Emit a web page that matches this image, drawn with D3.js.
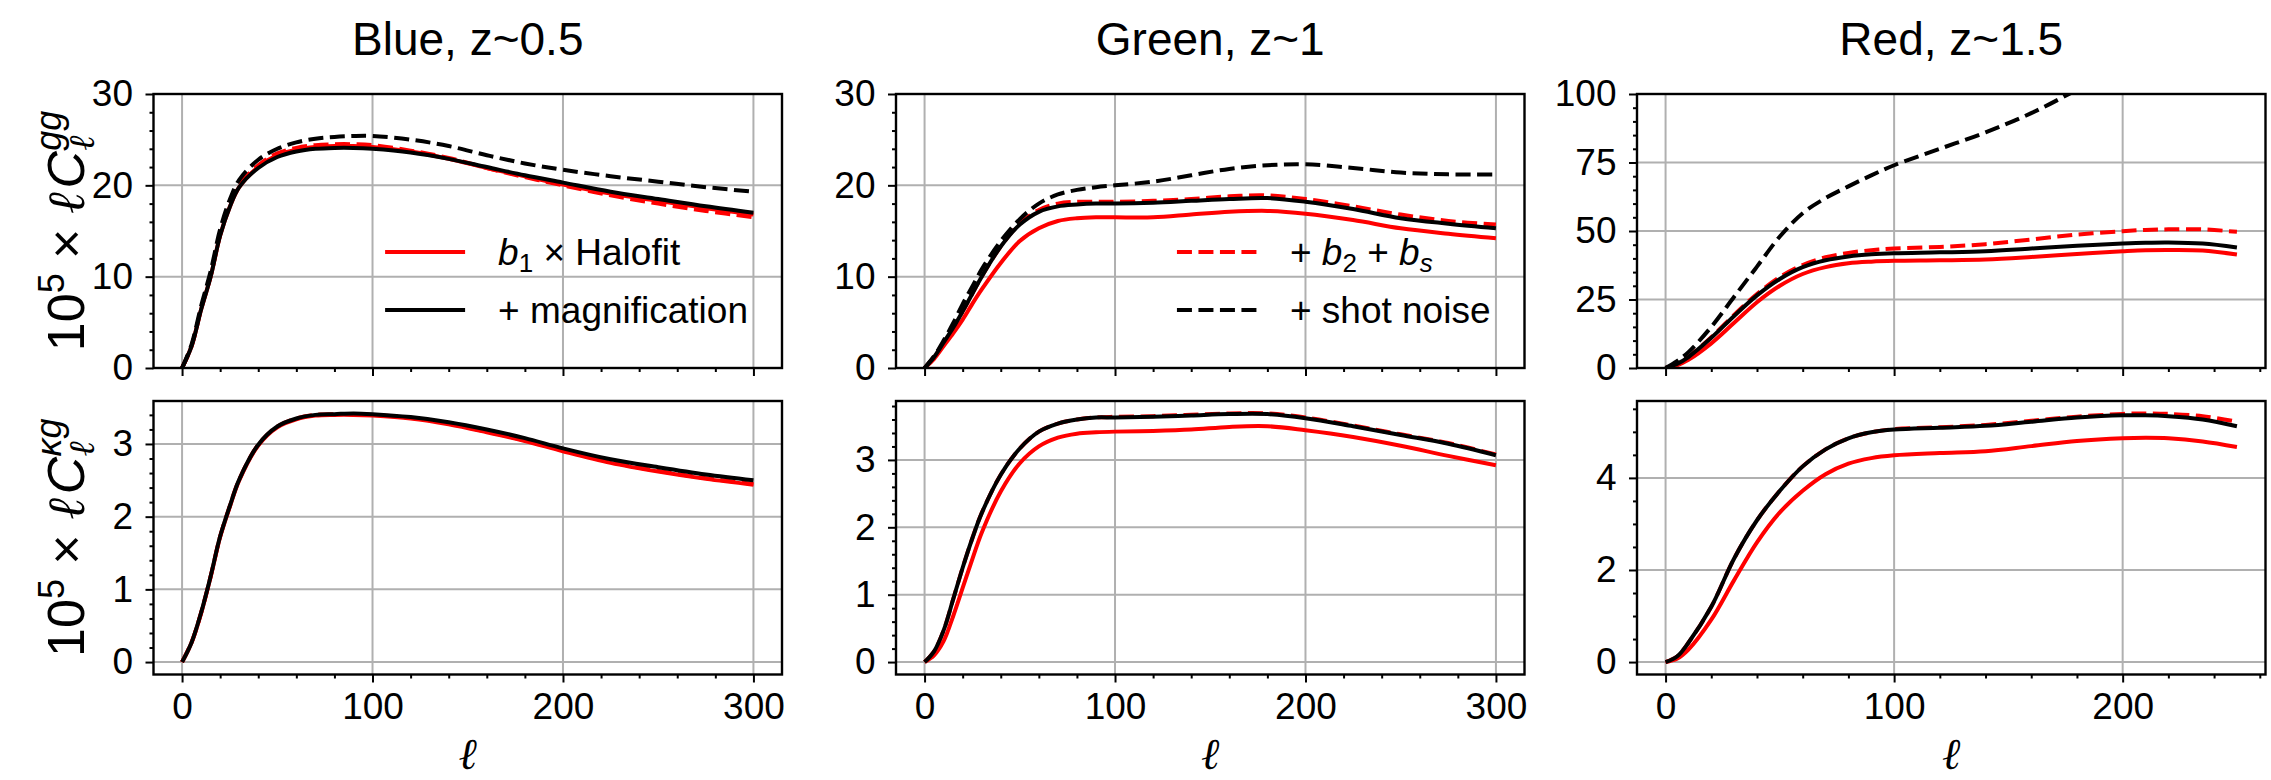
<!DOCTYPE html>
<html>
<head>
<meta charset="utf-8">
<script src="https://cdn.jsdelivr.net/npm/d3@7"></script>
<style>
  body { margin: 0; background: #fff; }
  svg { display: block; font-family: 'Liberation Sans', Arial, Helvetica, sans-serif; }
</style>
</head>
<body>
<svg width="2271" height="780"></svg>
<script>
// multipole grids
const ellBG = [0, 5, 10, 15, 20, 25, 30, 40, 50, 60, 70, 80, 90, 100, 120, 140, 160, 180, 200, 225, 250, 275, 300]
const ellR = [0, 5, 10, 20, 30, 40, 50, 60, 70, 80, 90, 100, 120, 140, 160, 180, 200, 210, 220, 235, 250]

// Blue, z~0.5
const blueGG_halofit = [0, 2.4, 6.4, 10.0, 14.5, 17.6, 19.8, 22.0, 23.3, 23.9, 24.2, 24.3, 24.3, 24.2, 23.7, 22.9, 21.9, 21.0, 20.1, 19.1, 18.3, 17.5, 16.8]
const blueGG_magnif = [0, 2.4, 6.4, 10.0, 14.5, 17.6, 19.8, 21.9, 23.1, 23.7, 24.0, 24.1, 24.1, 24.0, 23.6, 22.9, 22.0, 21.1, 20.3, 19.3, 18.5, 17.7, 17.0]
const blueGG_b2bs = [0, 2.4, 6.5, 10.1, 14.6, 17.8, 20.0, 22.2, 23.5, 24.1, 24.4, 24.5, 24.5, 24.4, 23.8, 23.0, 21.9, 20.9, 20.0, 18.9, 18.0, 17.2, 16.5]
const blueGG_shot = [0, 2.6, 6.8, 10.6, 15.2, 18.4, 20.6, 22.8, 24.0, 24.7, 25.1, 25.3, 25.4, 25.4, 25.0, 24.3, 23.3, 22.4, 21.7, 21.0, 20.4, 19.8, 19.3]
const blueKG_halofit = [0, 0.27, 0.67, 1.17, 1.72, 2.13, 2.50, 2.98, 3.23, 3.34, 3.39, 3.40, 3.40, 3.39, 3.35, 3.27, 3.16, 3.04, 2.90, 2.74, 2.62, 2.52, 2.44]
const blueKG_magnif = [0, 0.27, 0.68, 1.18, 1.73, 2.14, 2.51, 2.99, 3.24, 3.35, 3.40, 3.41, 3.42, 3.41, 3.37, 3.30, 3.20, 3.08, 2.94, 2.79, 2.68, 2.58, 2.50]
const blueKG_b2bs = [0, 0.27, 0.68, 1.18, 1.73, 2.14, 2.51, 2.99, 3.24, 3.35, 3.40, 3.41, 3.41, 3.40, 3.36, 3.28, 3.17, 3.05, 2.91, 2.75, 2.63, 2.53, 2.45]

// Green, z~1
const greenGG_halofit = [0, 1.0, 2.4, 3.8, 5.3, 7.0, 8.6, 11.5, 13.9, 15.3, 16.1, 16.4, 16.5, 16.5, 16.5, 16.8, 17.1, 17.2, 16.9, 16.2, 15.3, 14.7, 14.2]
const greenGG_magnif = [0, 1.2, 2.8, 4.4, 6.2, 8.1, 10.0, 13.3, 15.7, 17.1, 17.7, 17.9, 18.0, 18.0, 18.1, 18.3, 18.5, 18.6, 18.2, 17.4, 16.4, 15.8, 15.3]
const greenGG_b2bs = [0, 1.2, 2.8, 4.4, 6.2, 8.1, 10.0, 13.3, 15.8, 17.3, 18.0, 18.2, 18.2, 18.2, 18.3, 18.5, 18.8, 18.9, 18.5, 17.7, 16.8, 16.1, 15.7]
const greenGG_shot = [0, 1.3, 3.0, 4.9, 7.0, 8.9, 10.8, 13.9, 16.3, 18.0, 19.0, 19.5, 19.8, 20.0, 20.4, 21.1, 21.8, 22.2, 22.3, 21.9, 21.4, 21.2, 21.2]
const greenKG_halofit = [0, 0.10, 0.31, 0.68, 1.10, 1.52, 1.92, 2.53, 2.95, 3.20, 3.33, 3.39, 3.41, 3.42, 3.43, 3.45, 3.49, 3.50, 3.44, 3.34, 3.21, 3.06, 2.92]
const greenKG_magnif = [0, 0.16, 0.47, 0.93, 1.40, 1.83, 2.21, 2.78, 3.17, 3.42, 3.54, 3.60, 3.63, 3.63, 3.64, 3.66, 3.68, 3.68, 3.62, 3.50, 3.37, 3.24, 3.07]
const greenKG_b2bs = [0, 0.16, 0.47, 0.93, 1.40, 1.83, 2.21, 2.78, 3.17, 3.42, 3.54, 3.60, 3.63, 3.64, 3.65, 3.67, 3.69, 3.69, 3.63, 3.51, 3.38, 3.25, 3.08]

// Red, z~1.5
const redGG_halofit = [0, 1.0, 3.0, 9.0, 16.5, 24.0, 30.0, 34.3, 36.8, 38.2, 38.8, 39.1, 39.3, 39.6, 40.5, 41.6, 42.6, 43.0, 43.1, 42.9, 41.4]
const redGG_magnif = [0, 1.5, 4.0, 11.0, 19.0, 26.5, 32.5, 36.8, 39.3, 40.7, 41.5, 41.9, 42.2, 42.6, 43.6, 44.6, 45.4, 45.7, 45.8, 45.4, 44.0]
const redGG_b2bs = [0, 1.5, 4.1, 11.2, 19.4, 27.0, 33.2, 37.6, 40.4, 42.0, 43.0, 43.6, 44.2, 45.2, 46.9, 48.7, 49.9, 50.4, 50.6, 50.6, 49.7]
const redGG_shot = [0, 2.5, 5.8, 15.0, 26.0, 37.0, 48.0, 56.5, 62.0, 66.3, 70.3, 74.0, 80.0, 86.0, 93.0, 101.5, 110.0, 114.0, 118.0, 124.0, 130.0]
const redKG_halofit = [0, 0.07, 0.27, 0.92, 1.78, 2.60, 3.25, 3.72, 4.08, 4.31, 4.43, 4.49, 4.54, 4.58, 4.69, 4.80, 4.86, 4.87, 4.86, 4.79, 4.67]
const redKG_magnif = [0, 0.12, 0.42, 1.20, 2.25, 3.08, 3.72, 4.25, 4.62, 4.86, 4.99, 5.05, 5.09, 5.13, 5.22, 5.31, 5.36, 5.36, 5.34, 5.27, 5.12]
const redKG_b2bs = [0, 0.12, 0.42, 1.20, 2.25, 3.08, 3.72, 4.25, 4.62, 4.86, 4.99, 5.06, 5.10, 5.15, 5.24, 5.33, 5.39, 5.40, 5.39, 5.34, 5.22]

const titles = ['Blue, z~0.5', 'Green, z~1', 'Red, z~1.5']
const xTicks = [[0, 100, 200, 300], [0, 100, 200, 300], [0, 100, 200]]
const yTicksGG = [[0, 10, 20, 30], [0, 10, 20, 30], [0, 25, 50, 75, 100]]
const yTicksKG = [[0, 1, 2, 3], [0, 1, 2, 3], [0, 2, 4]]
const yLimGG = [[0, 30], [0, 30], [0, 100]]

const svg = d3.select('svg')
const lefts = [153.5, 896, 1637]
const panelW = 628.5
const rows = [{ top: 94, bottom: 368 }, { top: 401, bottom: 674.5 }]
const RED = '#ff0000'
const LW = 4
const DASH = '15,6.5'

const styles = {
  halofit: { color: RED, dash: null },
  b2bs: { color: RED, dash: DASH },
  magnif: { color: '#000', dash: null },
  shot: { color: '#000', dash: DASH }
}

const columns = [
  { ell: ellBG, gg: { halofit: blueGG_halofit, b2bs: blueGG_b2bs, magnif: blueGG_magnif, shot: blueGG_shot },
    kg: { halofit: blueKG_halofit, b2bs: blueKG_b2bs, magnif: blueKG_magnif } },
  { ell: ellBG, gg: { halofit: greenGG_halofit, b2bs: greenGG_b2bs, magnif: greenGG_magnif, shot: greenGG_shot },
    kg: { halofit: greenKG_halofit, b2bs: greenKG_b2bs, magnif: greenKG_magnif } },
  { ell: ellR, gg: { halofit: redGG_halofit, b2bs: redGG_b2bs, magnif: redGG_magnif, shot: redGG_shot },
    kg: { halofit: redKG_halofit, b2bs: redKG_b2bs, magnif: redKG_magnif } }
]

function minorTicks(dom, step, majors) {
  const out = []
  const start = Math.ceil(dom[0] / step) * step
  for (let v = start; v <= dom[1] + 1e-9; v += step) {
    const r = Math.round(v * 1000) / 1000
    if (!majors.some(m => Math.abs(m - r) < 1e-6)) out.push(r)
  }
  return out
}

function styleAxis(g) {
  g.select('.domain').remove()
  g.selectAll('.tick line').attr('stroke', '#000').attr('stroke-width', 2)
  g.selectAll('.tick text').attr('font-size', 37).attr('fill', '#000')
    .attr('font-family', "'Liberation Sans', Arial, sans-serif")
}

function drawPanel(ci, ri) {
  const col = columns[ci]
  const row = rows[ri]
  const left = lefts[ci]
  const right = left + panelW
  const series = ri === 0 ? col.gg : col.kg
  const ellMax = d3.max(col.ell)
  const x = d3.scaleLinear().domain([-0.05 * ellMax, 1.05 * ellMax]).range([left, right])
  let ydom
  if (ri === 0) ydom = yLimGG[ci]
  else {
    const ymax = d3.max(Object.values(series), s => d3.max(s))
    ydom = [-0.05 * ymax, 1.05 * ymax]
  }
  const y = d3.scaleLinear().domain(ydom).range([row.bottom, row.top])
  const yt = ri === 0 ? yTicksGG[ci] : yTicksKG[ci]
  const yStep = ri === 0 ? (ci === 2 ? 5 : 2) : (ci === 2 ? 0.5 : 0.2)

  const g = svg.append('g')
  const id = 'clip-' + ci + '-' + ri
  g.append('clipPath').attr('id', id).append('rect')
    .attr('x', left).attr('y', row.top).attr('width', panelW).attr('height', row.bottom - row.top)

  // grid
  g.append('g').selectAll('line').data(xTicks[ci]).join('line')
    .attr('x1', d => x(d)).attr('x2', d => x(d)).attr('y1', row.top).attr('y2', row.bottom)
    .attr('stroke', '#b0b0b0').attr('stroke-width', 2)
  g.append('g').selectAll('line').data(yt).join('line')
    .attr('x1', left).attr('x2', right).attr('y1', d => y(d)).attr('y2', d => y(d))
    .attr('stroke', '#b0b0b0').attr('stroke-width', 2)

  // curves
  const line = d3.line().x((d, i) => x(col.ell[i])).y(d => y(d)).curve(d3.curveCatmullRom.alpha(0.5))
  const order = ['halofit', 'b2bs', 'magnif', 'shot'].filter(k => series[k])
  g.append('g').attr('clip-path', 'url(#' + id + ')')
    .selectAll('path').data(order).join('path')
    .attr('d', k => line(series[k]))
    .attr('fill', 'none')
    .attr('stroke', k => styles[k].color)
    .attr('stroke-width', LW)
    .attr('stroke-dasharray', k => styles[k].dash)
    .attr('stroke-linecap', 'butt')

  // axes
  const xAxis = d3.axisBottom(x).tickValues(xTicks[ci]).tickSize(8).tickPadding(10.5).tickSizeOuter(0)
  if (ri === 0) xAxis.tickFormat('')
  g.append('g').attr('transform', 'translate(0,' + row.bottom + ')').call(xAxis).call(styleAxis)
  g.append('g').attr('transform', 'translate(0,' + row.bottom + ')')
    .call(d3.axisBottom(x).tickValues(minorTicks(x.domain(), 20, xTicks[ci])).tickSize(4).tickFormat(''))
    .call(styleAxis)
  g.append('g').attr('transform', 'translate(' + left + ',0)')
    .call(d3.axisLeft(y).tickValues(yt).tickSize(8).tickPadding(12.5).tickFormat(d3.format('d')))
    .call(styleAxis)
  g.append('g').attr('transform', 'translate(' + left + ',0)')
    .call(d3.axisLeft(y).tickValues(minorTicks(ydom, yStep, yt)).tickSize(4).tickFormat(''))
    .call(styleAxis)

  // frame
  g.append('rect').attr('x', left).attr('y', row.top).attr('width', panelW).attr('height', row.bottom - row.top)
    .attr('fill', 'none').attr('stroke', '#000').attr('stroke-width', 2.4)

  if (ri === 0) {
    svg.append('text').attr('x', (left + right) / 2).attr('y', 55).attr('text-anchor', 'middle')
      .attr('font-size', 46).text(titles[ci])
  } else {
    svg.append('text').attr('x', (left + right) / 2).attr('y', 769).attr('text-anchor', 'middle')
      .attr('font-size', 44).attr('font-family', "'DejaVu Serif', serif").attr('font-style', 'italic').text('ℓ')
  }
  return { left, right, row }
}

const panels = []
for (let ci = 0; ci < 3; ci++) {
  panels.push([drawPanel(ci, 0), drawPanel(ci, 1)])
}

// y labels
const ylabSup = ['gg', 'κg']
rows.forEach((row, ri) => {
  const cy = (row.top + row.bottom) / 2
  const t = svg.append('text').attr('transform', 'translate(84,' + cy + ') rotate(-90)')
    .attr('text-anchor', 'middle').attr('font-size', 52)
  t.append('tspan').text('10')
  t.append('tspan').attr('font-size', 36).attr('dy', -20).text('5')
  t.append('tspan').attr('dy', 20).text(' × ')
  t.append('tspan').attr('font-family', "'DejaVu Serif', serif").attr('font-style', 'italic').text('ℓ')
  t.append('tspan').attr('font-style', 'italic').attr('dx', 4).text('C')
  const sub = t.append('tspan').attr('font-family', "'DejaVu Serif', serif").attr('font-style', 'italic')
    .attr('font-size', 36).attr('dy', 10).text('ℓ')
  const w = sub.node().getComputedTextLength()
  t.append('tspan').attr('font-style', 'italic').attr('font-size', 36).attr('dx', -w).attr('dy', -33).text(ylabSup[ri])
})

// legends
const legendGG = [
  [{ key: 'halofit', parts: [['b', 'i'], ['1', 'sub'], [' × Halofit', '']] },
   { key: 'magnif', parts: [['+ magnification', '']] }],
  [{ key: 'b2bs', parts: [['+ ', ''], ['b', 'i'], ['2', 'sub'], [' + ', ''], ['b', 'i'], ['s', 'isub']] },
   { key: 'shot', parts: [['+ shot noise', '']] }]
]
const legendRows = [252, 310]

legendGG.forEach((entries, li) => {
  const p = panels[li][0]
  const g = svg.append('g')
  const texts = entries.map((e, j) => {
    const t = g.append('text').attr('y', legendRows[j] + 13).attr('font-size', 37)
    let shift = 0
    e.parts.forEach(([s, f]) => {
      const ts = t.append('tspan').text(s)
      if (f === 'i') ts.attr('font-style', 'italic')
      if (f === 'sub' || f === 'isub') {
        ts.attr('font-size', 26).attr('dy', 7)
        if (f === 'isub') ts.attr('font-style', 'italic')
        shift = 7
      } else if (shift) {
        ts.attr('dy', -shift)
        shift = 0
      }
    })
    return t
  })
  const maxW = d3.max(texts, t => t.node().getComputedTextLength())
  const tx = p.right - 34 - maxW
  texts.forEach(t => t.attr('x', tx))
  entries.forEach((e, j) => {
    g.append('line').attr('x1', tx - 33 - 80).attr('x2', tx - 33)
      .attr('y1', legendRows[j]).attr('y2', legendRows[j])
      .attr('stroke', styles[e.key].color).attr('stroke-width', LW)
      .attr('stroke-dasharray', styles[e.key].dash)
  })
})
</script>
</body>
</html>
